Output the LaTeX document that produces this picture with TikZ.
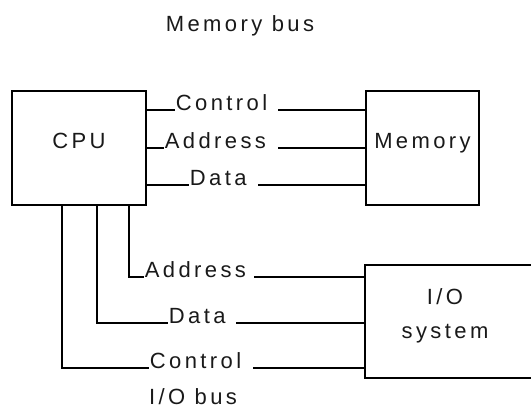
\documentclass[tikz,border=0pt]{standalone}
\usepackage{fontspec}
\setmainfont{Liberation Sans}[LetterSpace=15.5]
\begin{document}
\begin{tikzpicture}[x=1pt,y=-1pt,line width=1.7pt,
  txt/.style={font=\fontsize{22}{26}\selectfont,inner sep=0pt,text=black!90},
  box/.style={draw,line width=1.8pt,inner sep=0pt,text height=14pt,text depth=14pt,
    font=\fontsize{22}{26}\selectfont,text=black!90}]
\useasboundingbox (0,0) rectangle (531,410);
% boxes
\node[box,minimum width=134pt,minimum height=114pt] (cpu) at (79,148) {CPU};
\node[box,minimum width=113pt,minimum height=114pt] (mem) at (422.5,148) {Memory};
\node[box,minimum width=175pt,minimum height=113pt] (io) at (452.5,321.5) {};
\node[txt,align=center,font=\fontsize{22}{34}\selectfont] (iot) at (445,316) {I/O\\system};
% bus titles
\node[txt,anchor=base] (mbus) at (240,31) {Memory bus};
\node[txt,anchor=base] (iobus) at (193,404) {I/O bus};
% memory bus
\node[txt,anchor=base west] (mc) at (175,110) {Control};
\node[txt,anchor=base west] (ma) at (164,148) {Address};
\node[txt,anchor=base west] (md) at (189,185) {Data};
\coordinate (mcR) at (278,110);
\coordinate (maR) at (278,148);
\coordinate (mdR) at (258,185);
\draw (cpu.east |- mc.base) -- (mc.base west);
\draw (cpu.east |- ma.base) -- (ma.base west);
\draw (cpu.east |- md.base) -- (md.base west);
\draw (mcR) -- (mem.west |- mcR);
\draw (maR) -- (mem.west |- maR);
\draw (mdR) -- (mem.west |- mdR);
% I/O bus
\node[txt,anchor=base west] (ia) at (144,277) {Address};
\node[txt,anchor=base west] (id) at (168,323) {Data};
\node[txt,anchor=base west] (ic) at (149,368) {Control};
\coordinate (pa) at (129,205);
\coordinate (pd) at (97,205);
\coordinate (pc) at (62,205);
\coordinate (iaR) at (254,277);
\coordinate (idR) at (236,323);
\coordinate (icR) at (253,368);
\draw (pa) |- (ia.base west);
\draw (pd) |- (id.base west);
\draw (pc) |- (ic.base west);
\draw (iaR) -- (io.west |- iaR);
\draw (idR) -- (io.west |- idR);
\draw (icR) -- (io.west |- icR);
\end{tikzpicture}
\end{document}
